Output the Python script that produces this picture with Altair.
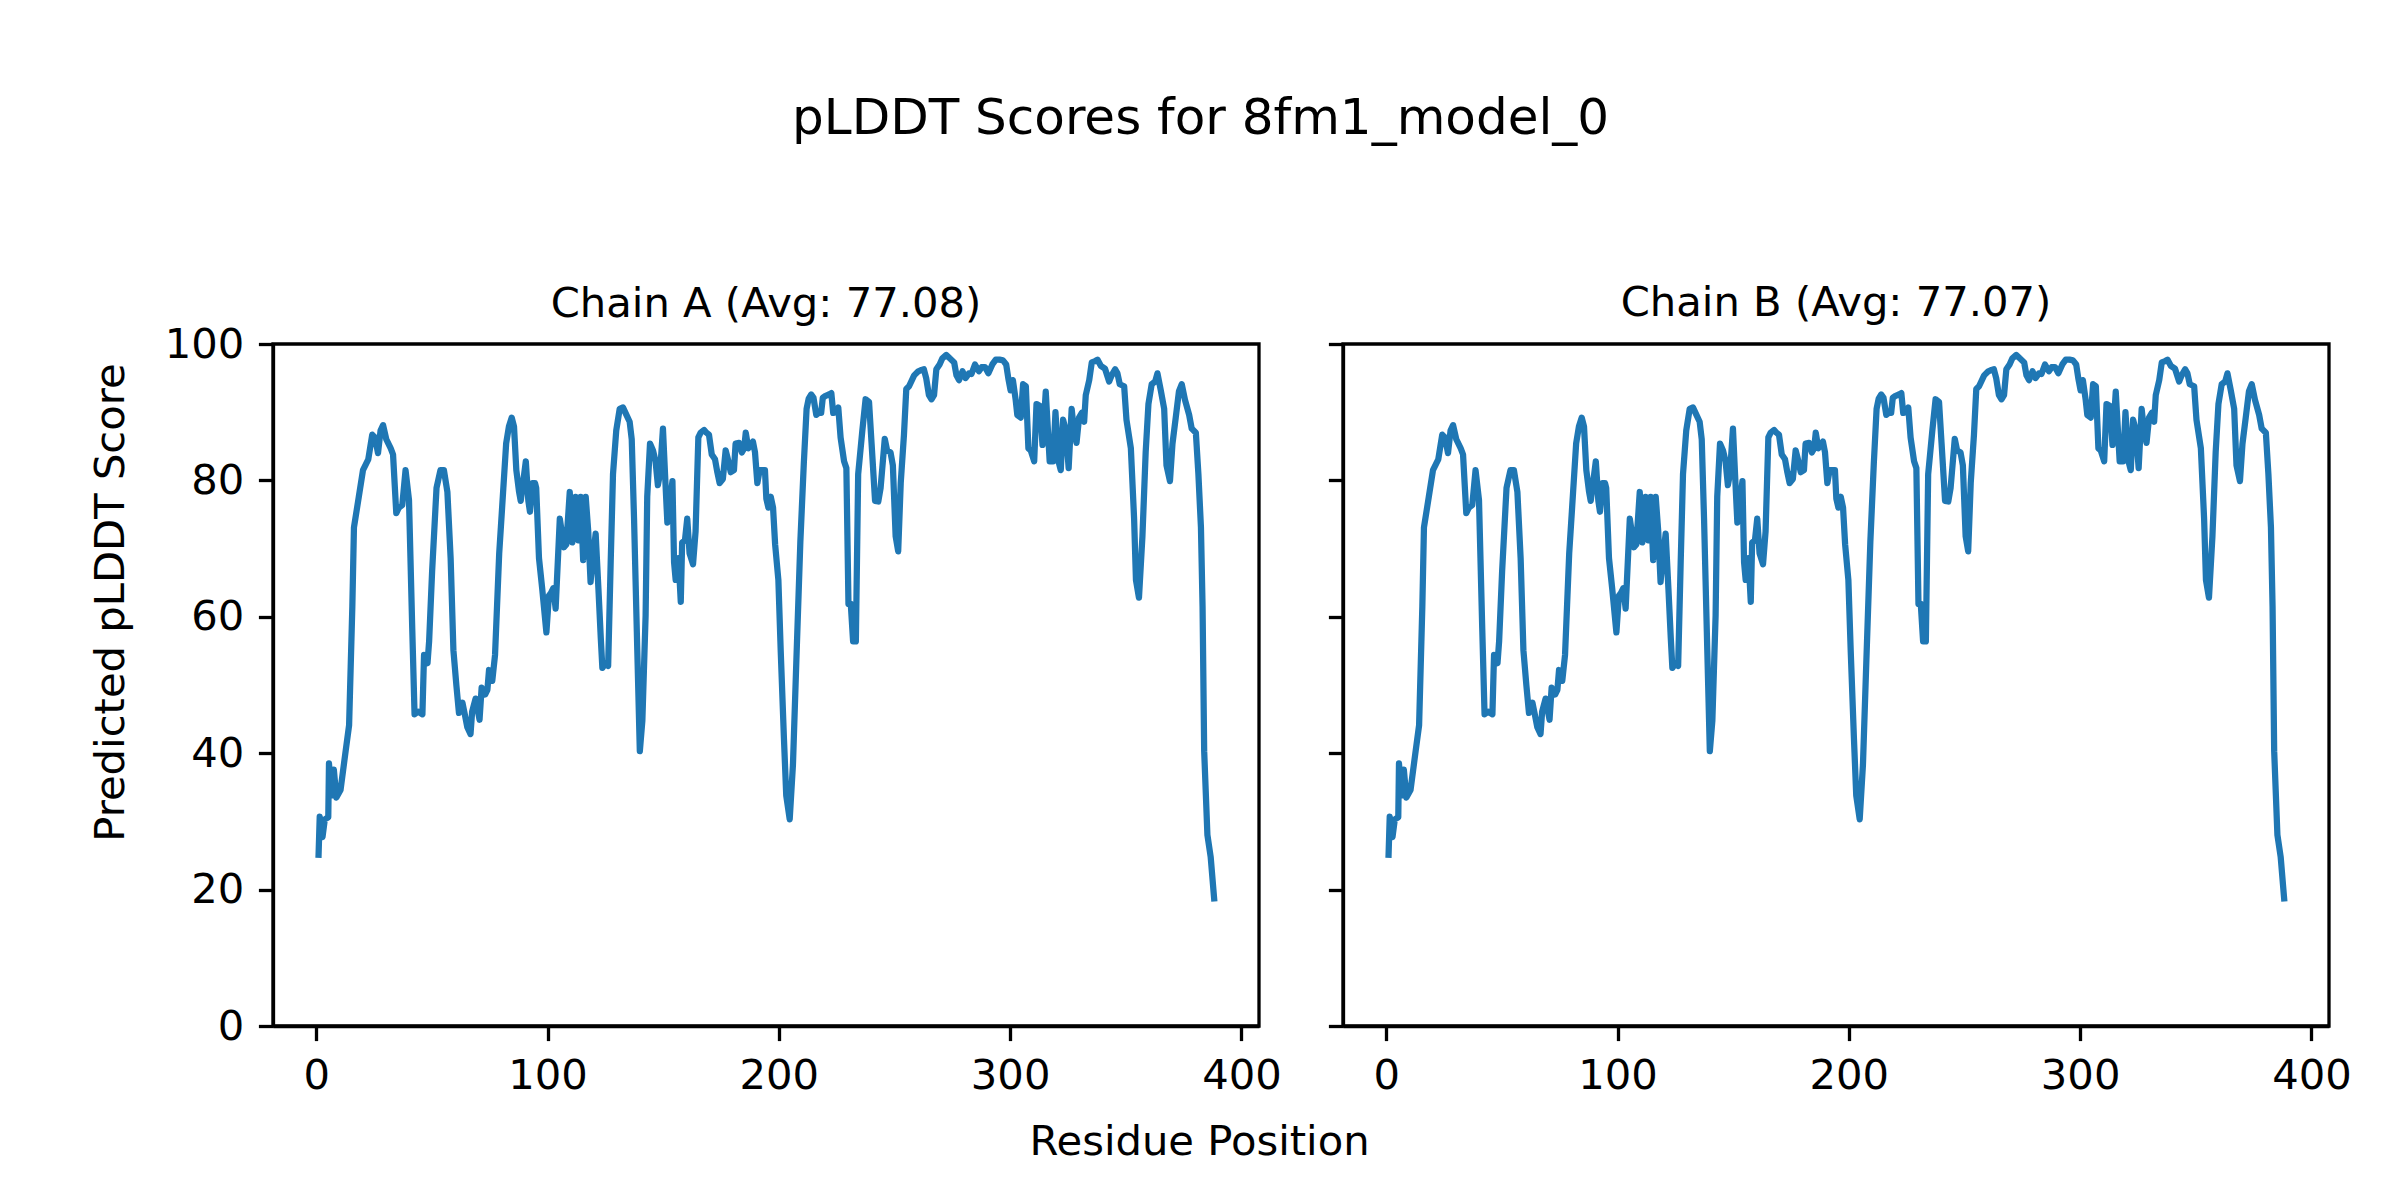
import altair as alt
import pandas as pd

# ---- data ----
chain_a_pos = [
    1.0, 1.5, 2.7, 3.7, 5.2, 5.5, 6.6, 7.6, 8.7, 10.5, 12.7, 14.2, 15.6, 16.3, 18.4, 20.2,
    22.5, 24.2, 25.4, 26.7, 27.8, 28.9, 30.3, 32.2, 33.2, 34.6, 35.7, 37.2, 38.6, 40.1,
    41.5, 42.5, 44.1, 45.9, 46.6, 48.1, 48.8, 50.1, 52.0, 53.7, 55.2, 56.7, 58.1, 59.3,
    60.6, 61.7, 63.2, 64.4, 65.3, 66.7, 67.4, 68.9, 69.6, 70.6, 71.5, 73.0, 74.0, 74.7,
    76.1, 77.3, 79.1, 80.3, 82.1, 83.3, 84.5, 85.5, 86.5, 87.7, 88.4, 89.4, 90.6, 91.7,
    92.4, 93.5, 94.6, 95.1, 96.3, 97.7, 99.5, 100.6, 101.5, 102.5, 103.5, 105.3, 107.1,
    108.1, 109.6, 110.7, 112.1, 113.3, 114.3, 115.4, 116.5, 117.6, 118.6, 119.6, 120.8,
    122.0, 123.0, 123.7, 125.1, 126.2, 127.3, 128.3, 129.7, 131.2, 132.6, 134.1, 135.5,
    136.4, 137.4, 138.8, 139.9, 141.0, 142.4, 143.1, 144.3, 145.6, 146.7, 147.7, 148.6,
    149.9, 150.8, 151.8, 152.8, 154.0, 154.7, 155.4, 156.6, 157.6, 158.2, 159.4, 160.4,
    161.4, 162.9, 164.0, 165.2, 166.2, 167.7, 168.7, 169.8, 171.0, 172.4, 173.4, 174.4,
    175.8, 177.0, 178.2, 179.2, 180.6, 181.3, 182.8, 184.0, 185.0, 185.7, 186.8, 187.8,
    188.8, 189.7, 190.7, 191.7, 192.9, 194.0, 194.6, 195.5, 196.5, 197.5, 198.4, 199.8,
    200.8, 202.2, 203.2, 204.7, 206.1, 207.6, 209.3, 210.8, 212.0, 212.9, 214.0, 215.0,
    216.2, 217.3, 218.3, 219.0, 220.2, 221.7, 222.7, 223.5, 224.6, 225.7, 226.7, 228.2,
    229.2, 230.1, 231.1, 232.1, 233.3, 234.3, 236.1, 237.5, 239.0, 240.1, 241.6, 243.0,
    244.0, 245.8, 246.8, 248.3, 249.3, 250.5, 251.6, 252.7, 254.1, 255.1, 256.3, 258.5,
    260.3, 261.7, 262.7, 263.7, 264.9, 266.0, 267.1, 268.1, 269.5, 270.7, 272.4, 273.9,
    275.8, 276.8, 277.9, 279.4, 280.7, 282.2, 283.3, 284.8, 286.5, 287.7, 289.2, 290.6,
    292.3, 293.8, 295.4, 296.9, 298.3, 299.2, 300.2, 301.2, 302.4, 303.1, 304.6, 305.6,
    306.8, 307.9, 308.9, 310.4, 311.4, 312.9, 314.0, 315.4, 317.1, 318.6, 319.6, 320.9,
    321.9, 322.9, 324.1, 325.3, 326.6, 327.6, 328.7, 329.8, 331.0, 332.0, 332.7, 334.2,
    335.3, 336.8, 337.8, 339.2, 341.0, 342.8, 343.9, 345.4, 346.4, 347.4, 349.3, 350.3,
    352.2, 353.6, 354.4, 355.7, 357.2, 358.6, 359.8, 361.2, 362.7, 363.7, 365.2, 366.6,
    367.6, 369.1, 370.2, 371.6, 373.0, 374.2, 375.6, 377.4, 378.5, 380.3, 381.4, 382.5,
    383.2, 383.9, 385.3, 386.7, 388.2,
]
chain_a_plddt = [
    25.1, 30.7, 27.7, 30.3, 30.6, 38.5, 33.8, 37.6, 33.5, 34.6, 40.3, 44.1, 61.5, 73.1, 77.6, 81.5,
    83.1, 86.7, 86.3, 84.0, 87.3, 88.1, 86.0, 84.7, 83.8, 75.2, 76.0, 76.4, 81.5, 77.1,
    58.3, 45.7, 46.1, 45.7, 54.4, 53.2, 56.4, 66.7, 78.9, 81.5, 81.5, 78.3, 68.6, 55.1,
    49.9, 45.9, 47.4, 45.4, 43.8, 42.8, 46.1, 48.0, 46.7, 44.9, 49.6, 48.6, 49.3, 52.2,
    50.6, 54.4, 69.3, 75.7, 85.4, 87.9, 89.2, 87.9, 81.5, 78.3, 77.0, 79.6, 82.8, 77.0,
    75.4, 79.6, 79.6, 78.9, 68.6, 64.1, 57.7, 63.1, 63.5, 64.2, 61.2, 74.4, 70.2,
    70.6, 78.3, 70.9, 77.6, 71.2, 77.6, 68.3, 77.6, 72.5, 65.1, 68.6, 72.2,
    64.1, 57.0, 52.5, 53.2, 52.8, 68.0, 80.9, 87.3, 90.5, 90.7, 89.6, 88.6,
    86.0, 74.4, 55.1, 40.3, 44.8, 60.2, 77.6, 85.4, 84.4, 82.8, 79.3, 80.9,
    87.6, 80.9, 73.8, 76.4, 79.9, 68.0, 65.4, 68.6, 62.2, 70.9, 71.2, 74.4,
    69.3, 67.7, 72.5, 86.3, 87.0, 87.4, 87.0, 86.7, 83.8, 83.1, 81.2, 79.6,
    80.2, 84.4, 82.8, 81.2, 81.5, 85.4, 85.5, 84.1, 84.7, 87.0, 84.7, 85.1,
    85.7, 84.1, 79.6, 81.5, 81.5, 81.5, 77.3, 76.0, 77.6, 76.0, 70.6, 65.4,
    55.1, 42.2, 33.8, 30.3, 38.3, 53.8, 71.0, 82.5, 90.5, 92.0, 92.6, 92.1,
    89.6, 89.9, 89.9, 92.1, 92.4, 92.6, 92.8, 89.9, 90.0, 90.7, 86.3, 82.8,
    81.8, 61.9, 61.9, 56.4, 56.4, 80.9, 87.3, 91.9, 91.5, 85.4, 77.0, 76.9,
    78.9, 86.1, 84.4, 84.1, 82.2, 71.8, 69.6, 79.6, 86.7, 93.4, 93.8, 95.4,
    96.0, 96.2, 96.3, 95.0, 92.5, 91.9, 92.5, 96.3, 97.0, 97.9, 98.4, 97.9,
    97.3, 95.4, 94.7, 96.0, 95.0, 95.7, 95.6, 97.0, 96.0, 96.6, 96.6, 95.7,
    97.0, 97.7, 97.7, 97.6, 97.0, 95.0, 93.2, 94.7, 91.8, 89.6, 89.2, 94.1,
    93.8, 84.7, 84.4, 82.8, 91.2, 90.9, 85.2, 93.0, 82.8, 82.8, 90.0, 82.8,
    81.5, 88.9, 87.3, 81.8, 90.5, 87.3, 85.5, 89.2, 89.9, 88.6, 92.5, 94.7,
    97.3, 97.5, 97.7, 96.8, 96.4, 94.5, 95.4, 96.3, 95.7, 94.1, 93.8, 88.9,
    84.7, 74.4, 65.4, 62.8, 71.8, 84.1, 91.2, 94.1, 94.5, 95.7, 93.1, 90.5,
    82.2, 79.9, 85.4, 89.2, 93.1, 94.1, 91.8, 89.6, 87.6, 87.0, 80.9, 73.1,
    61.5, 40.3, 28.0, 24.8, 18.7,
]
# Chain B is drawn almost identically in the reference
chain_b_pos = list(chain_a_pos)
chain_b_plddt = list(chain_a_plddt)

panel_titles = ["Chain A (Avg: 77.08)", "Chain B (Avg: 77.07)"]
suptitle = "pLDDT Scores for 8fm1_model_0"
x_label = "Residue Position"
y_label = "Predicted pLDDT Score"
x_ticks = [0, 100, 200, 300, 400]
y_ticks = [0, 20, 40, 60, 80, 100]

FONT = "DejaVu Sans"
BLUE = "#1f77b4"
PW, PH = 986, 682
FS = 41.7


def panel(pos, vals, title, first):
    df = pd.DataFrame({"pos": pos, "plddt": vals, "idx": list(range(len(pos)))})
    if first:
        x_axis = alt.Axis(values=x_ticks, title=x_label, titleX=926, titleY=128,
                          titleBaseline="alphabetic", titleAnchor="start", titleAlign="center",
                          labelFlush=False)
        y_axis = alt.Axis(values=y_ticks, title=y_label, titleX=-150, titleY=258,
                          titleAngle=270, titleBaseline="alphabetic", titleAlign="center",
                          titleAnchor="start", labelFlush=False)
        tdy = 60
    else:
        x_axis = alt.Axis(values=x_ticks, title="", labelFlush=False)
        y_axis = alt.Axis(values=y_ticks, title="", labels=False, labelFlush=False)
        tdy = 40
    return (
        alt.Chart(df)
        .mark_line(color=BLUE, strokeWidth=6.25, strokeJoin="round", strokeCap="square", clip=True)
        .encode(
            x=alt.X("pos:Q", scale=alt.Scale(domain=[-18.7, 407.6], nice=False, zero=False), axis=x_axis),
            y=alt.Y("plddt:Q", scale=alt.Scale(domain=[0, 100], nice=False), axis=y_axis),
            order=alt.Order("idx:Q"),
        )
        .properties(
            width=PW,
            height=PH,
            title=alt.TitleParams(title, fontSize=FS, font=FONT, fontWeight="normal",
                                  anchor="middle", baseline="alphabetic", frame="group",
                                  offset=25, dy=tdy, color="black"),
        )
    )


left = panel(chain_a_pos, chain_a_plddt, panel_titles[0], True)
right = panel(chain_b_pos, chain_b_plddt, panel_titles[1], False)

chart = (
    alt.hconcat(left, right, spacing=84, bounds="flush")
    .properties(
        title=alt.TitleParams(suptitle, fontSize=50, font=FONT, fontWeight="normal", anchor="middle",
                              baseline="alphabetic", offset=97, dx=-20, color="black"),
        padding={"left": 80, "top": 86, "right": 5, "bottom": 5},
        background="white",
    )
    .configure_view(stroke="black", strokeWidth=3.3)
    .configure_axis(
        labelFont=FONT, labelFontSize=FS, labelColor="black", labelPadding=14.6,
        titleFont=FONT, titleFontSize=FS, titleFontWeight="normal", titleColor="black",
        tickSize=14.6, tickWidth=3.3, tickColor="black",
        domainColor="black", domainWidth=3.3, grid=False,
    )
)

chart.save("out.html", embed_options={"renderer": "svg", "actions": False})
